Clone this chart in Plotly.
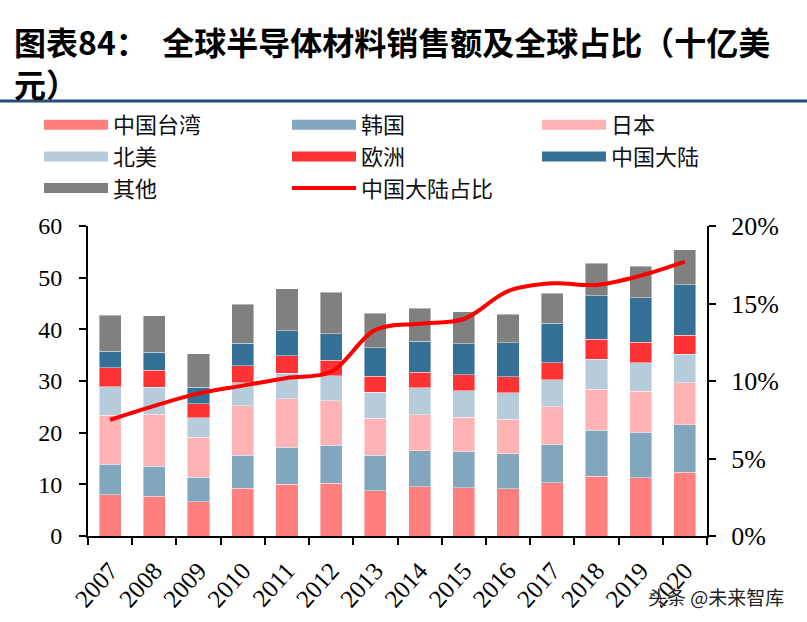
import plotly.graph_objects as go

years = ["2007", "2008", "2009", "2010", "2011", "2012", "2013",
         "2014", "2015", "2016", "2017", "2018", "2019", "2020"]
taiwan = [8.0, 7.7, 6.6, 9.2, 10.0, 10.2, 8.8, 9.5, 9.3, 9.1, 10.3, 11.6, 11.3, 12.3]
korea = [5.9, 5.8, 4.8, 6.4, 7.2, 7.4, 6.8, 7.0, 7.1, 6.8, 7.4, 8.9, 8.8, 9.2]
japan = [9.5, 10.1, 7.7, 9.6, 9.4, 8.6, 7.2, 7.0, 6.6, 6.7, 7.3, 7.9, 7.9, 8.2]
namerica = [5.5, 5.2, 3.8, 4.5, 4.9, 4.8, 5.0, 5.2, 5.1, 5.1, 5.2, 5.8, 5.5, 5.5]
europe = [3.7, 3.3, 2.7, 3.3, 3.4, 3.0, 3.1, 3.0, 3.1, 3.1, 3.3, 3.9, 4.0, 3.7]
mainland = [3.2, 3.5, 3.2, 4.3, 4.8, 5.1, 5.5, 6.0, 6.0, 6.6, 7.7, 8.4, 8.6, 9.7]
others = [6.9, 7.0, 6.5, 7.6, 8.2, 8.1, 6.7, 6.4, 6.2, 5.5, 5.8, 6.3, 6.1, 6.8]
share = [0.075, 0.084, 0.092, 0.097, 0.102, 0.106, 0.133, 0.137, 0.140, 0.158, 0.163, 0.162, 0.168, 0.177]

# name, values, colour, legend column
series = [
    ("中国台湾", taiwan, "#FF7F7F", "legend"),
    ("韩国", korea, "#82A6BE", "legend2"),
    ("日本", japan, "#FFB3B4", "legend3"),
    ("北美", namerica, "#B6CCDA", "legend"),
    ("欧洲", europe, "#FF3333", "legend2"),
    ("中国大陆", mainland, "#357196", "legend3"),
    ("其他", others, "#808080", "legend"),
]
line_name = "中国大陆占比"
line_color = "#FF0000"

fig = go.Figure()
for name, vals, col, lg in series:
    fig.add_trace(go.Bar(x=years, y=vals, name=name, marker_color=col,
                         marker_line=dict(color="rgba(255,255,255,0.7)", width=0.6),
                         showlegend=False, legendgroup=name))
fig.add_trace(go.Scatter(x=years, y=share, name=line_name, yaxis="y2",
                         mode="lines", line=dict(color=line_color, width=4, shape="spline"),
                         showlegend=False, legendgroup=line_name))

# legend entries (swatches)
for name, vals, col, lg in series:
    fig.add_trace(go.Scatter(x=[None], y=[None], name=name, mode="lines",
                             line=dict(color=col, width=12), legendgroup=name, legend=lg))
fig.add_trace(go.Scatter(x=[None], y=[None], name=line_name, mode="lines",
                         line=dict(color=line_color, width=4), legendgroup=line_name,
                         legend="legend2"))

W, H = 807, 622
L, R, T, B = 88, 100, 226, 86
pw, ph = W - L - R, H - T - B

def px_x(x):
    return (x - L) / pw

def px_y(y):
    return (H - B - y) / ph

def legend_at(xpx):
    return dict(orientation="v", xref="container", yref="container",
                x=xpx / W, y=1 - 104 / H, xanchor="left", yanchor="top",
                itemwidth=64, font=dict(family="Noto Sans CJK SC", size=22, color="#111"),
                traceorder="normal", tracegroupgap=0, bgcolor="rgba(0,0,0,0)")

serif = "Liberation Serif"
fig.update_layout(
    width=W, height=H,
    margin=dict(l=L, r=R, t=T, b=B, autoexpand=False),
    paper_bgcolor="white", plot_bgcolor="white",
    barmode="stack", bargap=0.5,
    showlegend=True,
    legend=legend_at(39),
    legend2=legend_at(287),
    legend3=legend_at(537),
    xaxis=dict(type="category", showline=True, linecolor="#000", linewidth=2,
               ticks="outside", ticklen=7, tickwidth=2, tickcolor="#000",
               tickson="boundaries", tickangle=-48, ticklabelstandoff=8,
               tickfont=dict(family=serif, size=25, color="#000"),
               showgrid=False, zeroline=False),
    yaxis=dict(range=[0, 60], dtick=10, showline=True, linecolor="#000", linewidth=2,
               ticks="outside", ticklen=7, tickwidth=2, tickcolor="#000",
               ticklabelstandoff=12,
               tickfont=dict(family=serif, size=24, color="#000"),
               showgrid=False, zeroline=False),
    yaxis2=dict(range=[0, 0.2], dtick=0.05, tickformat=".0%", overlaying="y", side="right",
                showline=True, linecolor="#000", linewidth=2,
                ticks="outside", ticklen=7, tickwidth=2, tickcolor="#000",
                ticklabelstandoff=10,
                tickfont=dict(family=serif, size=26, color="#000"),
                showgrid=False, zeroline=False),
)

title_font = dict(family="Noto Sans CJK SC", size=32, color="#000", weight="bold")
fig.add_annotation(text="图表84：  全球半导体材料销售额及全球占比（十亿美<br>元）",
                   xref="paper", yref="paper", align="left",
                   x=px_x(12), y=px_y(62), xanchor="left", yanchor="middle",
                   showarrow=False, font=title_font)
fig.add_shape(type="line", xref="paper", yref="paper", x0=px_x(0), x1=px_x(W),
              y0=px_y(101), y1=px_y(101), line=dict(color="#1F4E79", width=3))
fig.add_annotation(text="头条 @未来智库", xref="paper", yref="paper",
                   x=px_x(716), y=px_y(596), xanchor="center", yanchor="middle",
                   showarrow=False,
                   font=dict(family="Noto Sans CJK SC", size=19, color="#222",
                             shadow="0px 0px 3px white"))

fig.write_html("out.html", config={"displayModeBar": False},
               post_script="document.body.style.margin='0';")
